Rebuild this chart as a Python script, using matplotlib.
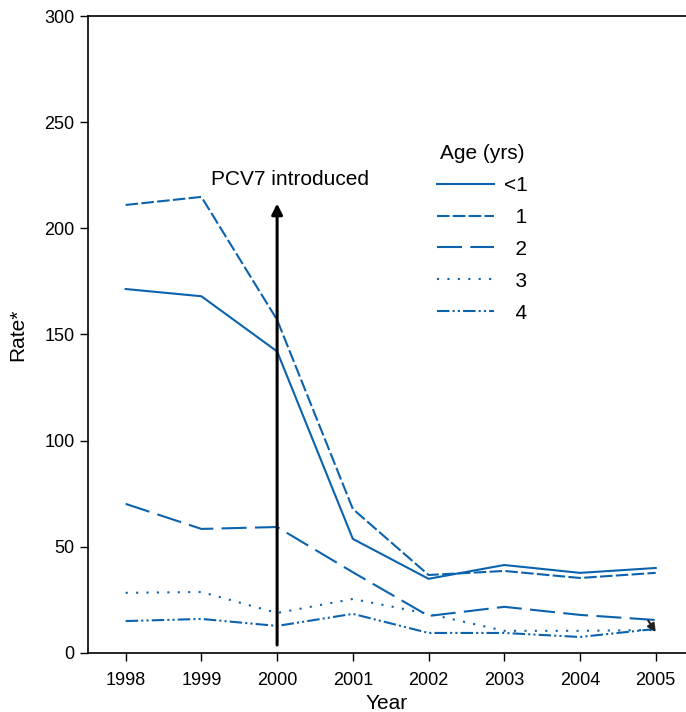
import matplotlib
matplotlib.use("Agg")
import matplotlib.pyplot as plt

plt.rcParams["font.family"] = ["Liberation Sans", "DejaVu Sans"]

# --- data ---
years = [1998, 1999, 2000, 2001, 2002, 2003, 2004, 2005]
age_lt1 = [171.4, 168.0, 142.0, 53.7, 34.9, 41.4, 37.7, 40.0]
age_1 = [211.0, 214.8, 156.9, 67.8, 36.7, 38.6, 35.3, 37.7]
age_2 = [70.2, 58.4, 59.3, 38.0, 17.4, 21.7, 17.9, 15.5]
age_3 = [28.3, 28.7, 18.8, 25.4, 18.4, 10.4, 10.4, 10.8]
age_4 = [15.0, 16.0, 12.7, 18.4, 9.4, 9.4, 7.5, 11.3]
labels = ["<1", "1", "2", "3", "4"]

blue = "#0b62ad"
styles = ["-", (0, (6, 1.6)), (0, (12, 4)), (0, (1, 4)), (0, (6, 1.5, 1, 1.5, 1, 1.5))]

fig = plt.figure(figsize=(6.86, 7.12), dpi=100)
ax = fig.add_axes([0.128, 0.083, 0.872, 0.8945])

for series, lab, ls in zip([age_lt1, age_1, age_2, age_3, age_4], labels, styles):
    # pad single digits so they sit right-aligned under "<1"
    shown = lab if lab.startswith("<") else "  " + lab
    ax.plot(years, series, color=blue, lw=1.5, linestyle=ls, label=shown)

# PCV7 arrow
ax.annotate("", xy=(2000, 213), xytext=(2000, 2.4),
            arrowprops=dict(arrowstyle="-|>", color="black", lw=2.2, mutation_scale=16))
ax.text(2000.17, 223, "PCV7 introduced", ha="center", va="center", fontsize=15)

# small arrow at 2005
ax.annotate("", xy=(2005.0, 9.8), xytext=(2004.9, 15.3),
            arrowprops=dict(arrowstyle="-|>", color="#222222", lw=1.5,
                            mutation_scale=12, shrinkA=0, shrinkB=0))

ax.set_xlim(1997.5, 2005.4)
ax.set_ylim(0, 300)
ax.set_xticks(years)
ax.set_yticks([0, 50, 100, 150, 200, 250, 300])
ax.tick_params(direction="out", length=6, width=1, labelsize=13)
ax.tick_params(axis="x", pad=8)
ax.tick_params(axis="y", pad=3.5)
ax.spines["right"].set_visible(False)
for s in ["left", "bottom", "top"]:
    ax.spines[s].set_linewidth(1.2)
ax.set_xlabel("Year", fontsize=15, labelpad=3.5)
ax.set_ylabel("Rate*", fontsize=15, labelpad=12)

leg = ax.legend(title="Age (yrs)", loc="upper left", bbox_to_anchor=(0.5836, 0.799),
                frameon=False, fontsize=15, title_fontsize=15, handlelength=2.75,
                labelspacing=0.62, borderpad=0, borderaxespad=0, handletextpad=0.45)

fig.savefig("out.png", dpi=100)
